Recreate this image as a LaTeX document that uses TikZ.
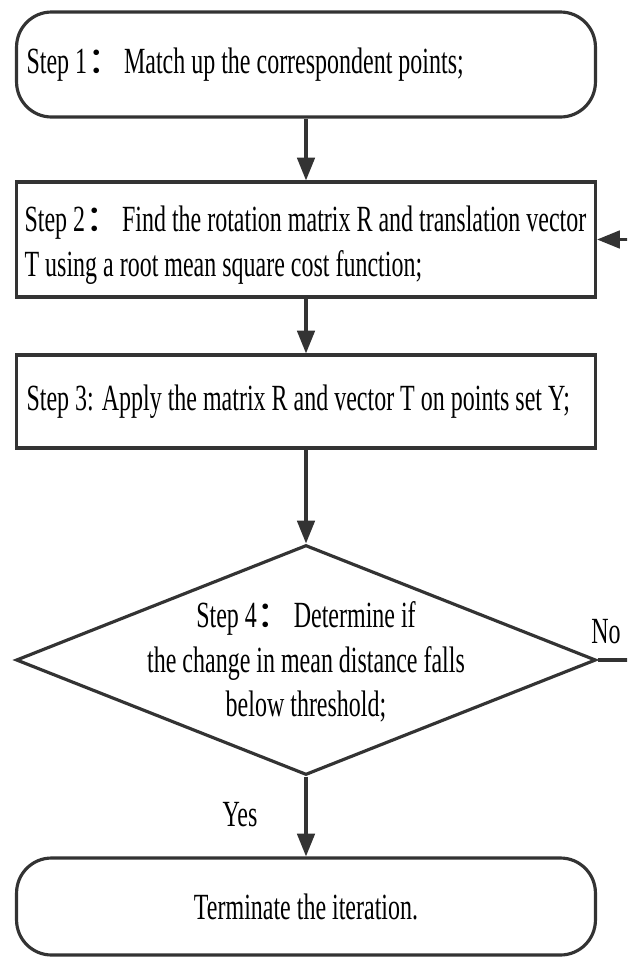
\documentclass[tikz,border=0pt]{standalone}
\usepackage{fontspec}
\setmainfont[FakeStretch=0.65]{Liberation Serif}
\newfontfamily\cjk{Noto Sans CJK SC}
\usepackage{tikz}
\usetikzlibrary{arrows.meta,shapes.geometric}

\colorlet{ink}{black!80}
\newcommand{\wcolon}{{\cjk ：}}

\begin{document}
\begin{tikzpicture}[x=0.02cm, y=-0.02cm, >={Triangle[length=13pt,width=10pt]}, line width=1.8pt,
    every node/.style={font=\fontsize{21pt}{25.5pt}\selectfont},
    stepbox/.style={draw=ink, minimum width=11.58cm},
    endbox/.style={stepbox, rounded corners=0.7cm},
    steptext/.style={anchor=west, align=left, inner sep=0pt},
    decision/.style={draw=ink, diamond, minimum width=11.6cm, minimum height=4.6cm, inner sep=0pt}]
    \path[use as bounding box, clip] (0,0) rectangle (627,961);
    % boxes
    \node[endbox, minimum height=2.1cm] (step1) at (306,64.5) {};
    \node[steptext] (step1txt) at ([xshift=0.2cm]step1.west)
        {Step 1\wcolon Match up the correspondent points;};
    \node[stepbox, minimum height=2.3cm] (step2) at (306,239.5) {};
    \node[steptext] (step2txt) at ([xshift=0.16cm,yshift=-0.12cm]step2.west)
        {Step 2\wcolon Find the rotation matrix R and translation vector\\ T using a root mean square cost function;};
    \node[stepbox, minimum height=1.86cm] (step3) at (306,401.5) {};
    \node[steptext] (step3txt) at ([xshift=0.2cm]step3.west)
        {Step 3: Apply the matrix R and vector T on points set Y;};
    \node[decision] (step4) at (306,660) {};
    \node[align=center] (step4txt) at (306,662)
        {Step 4\wcolon Determine if\\ the change in mean distance falls\\ below threshold;};
    \node[endbox, minimum height=1.94cm] (done) at (306,906.5)
        {Terminate the iteration.};
    % arrows
    \draw[->,ink] (step1) -- (step2);
    \draw[->,ink] (step2) -- (step3);
    \draw[->,ink] (step3) -- (step4);
    \draw[->,ink] (step4) -- (done);
    \node (yes) at (240,815) {Yes};
    \draw[->,ink] (step4.east) -- ++(80,0) |- (step2.east);
    \node (no) at (606,632) {No};
\end{tikzpicture}
\end{document}
